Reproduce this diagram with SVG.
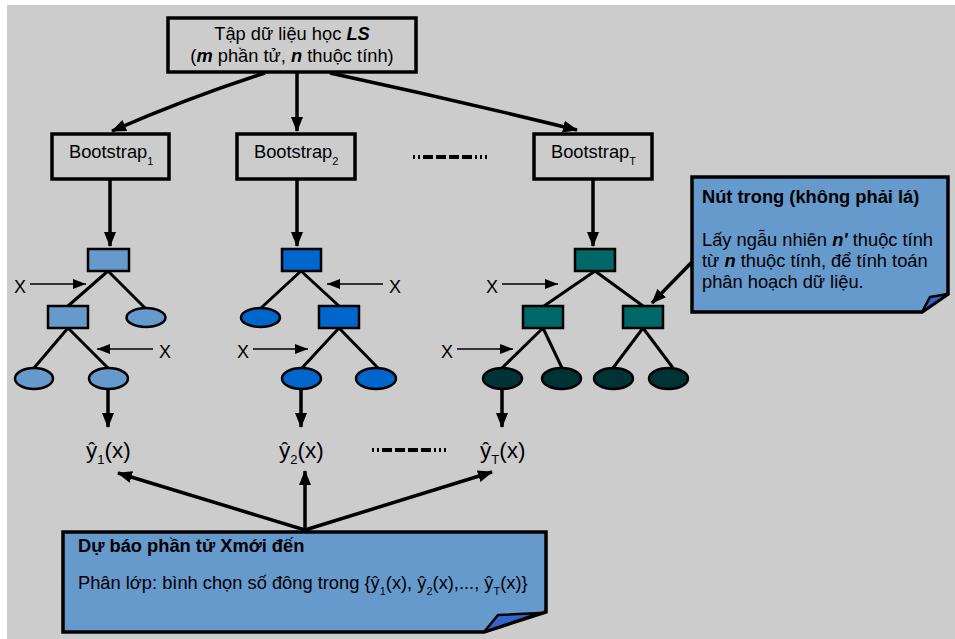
<svg xmlns="http://www.w3.org/2000/svg" width="955" height="639" viewBox="0 0 955 639">
<style>
text{font-family:"Liberation Sans",Arial,sans-serif;fill:#000}
.box{fill:none;stroke:#000;stroke-width:3.5}
.t16{font-size:18.3px}
.arr{fill:none;stroke:#000;stroke-width:3.5}
.xa{fill:none;stroke:#000;stroke-width:1.5}
.edge{stroke:#000;stroke-width:3;fill:none}
.n1{fill:#6699cc;stroke:#000;stroke-width:2.5}
.n2{fill:#0066cc;stroke:#000;stroke-width:2.5}
.n3{fill:#006666;stroke:#000;stroke-width:2.5}
.l3{fill:#003333;stroke:#000;stroke-width:2.5}
.note{fill:#6699cc;stroke:#000;stroke-width:3.5}
.flap{fill:#3366cc;stroke:#000;stroke-width:2.5;stroke-linejoin:round}
.dash{stroke:#000;stroke-width:4;stroke-dasharray:2 3 2 3 10 3 10 3 10 3 10 3 2 3 2 3}
.xl{font-size:18px}
.yp{font-size:22.5px}
</style>
<defs>
<marker id="ah" markerUnits="userSpaceOnUse" markerWidth="16" markerHeight="14" refX="14" refY="6" orient="auto"><path d="M0,0 L15,6 L0,12 Z" fill="#000"/></marker>
<marker id="as" markerUnits="userSpaceOnUse" markerWidth="14" markerHeight="12" refX="13" refY="5" orient="auto"><path d="M0,0 L13,5 L0,10 Z" fill="#000"/></marker>
</defs>
<rect x="7" y="5" width="948" height="634" fill="#cccccc"/>

<g id="connectors">
<path class="arr" d="M265,73 Q190,97 112,131" marker-end="url(#ah)"/>
<path class="arr" d="M297,73 L297,131" marker-end="url(#ah)"/>
<path class="arr" d="M330,73 Q455,100 577,130" marker-end="url(#ah)"/>
<path class="arr" d="M110,179 L110,246" marker-end="url(#ah)"/>
<path class="arr" d="M297,179 L297,246" marker-end="url(#ah)"/>
<path class="arr" d="M593,179 L593,246" marker-end="url(#ah)"/>
<path class="arr" d="M108,389 L108,427" marker-end="url(#ah)"/>
<path class="arr" d="M301,389 L301,427" marker-end="url(#ah)"/>
<path class="arr" d="M502,389 L502,427" marker-end="url(#ah)"/>
<path class="arr" d="M305,530 L118,473" marker-end="url(#ah)"/>
<path class="arr" d="M305,530 L305,471" marker-end="url(#ah)"/>
<path class="arr" d="M305,530 L492,472" marker-end="url(#ah)"/>
<path class="arr" d="M692,262 L652,303" marker-end="url(#ah)"/>
<path class="xa" d="M30,284 L86,284" marker-end="url(#as)"/>
<path class="xa" d="M153,349 L97,349" marker-end="url(#as)"/>
<path class="xa" d="M383,284 L327,284" marker-end="url(#as)"/>
<path class="xa" d="M253,349 L308,349" marker-end="url(#as)"/>
<path class="xa" d="M502,284 L558,284" marker-end="url(#as)"/>
<path class="xa" d="M457,349 L513,349" marker-end="url(#as)"/>
<line class="dash" x1="413" y1="157" x2="487" y2="157"/>
<line class="dash" x1="372" y1="450" x2="447" y2="450"/>
</g>

<g id="source">
<rect class="box" x="168" y="18" width="248" height="54"/>
<text class="t16" x="292" y="40" text-anchor="middle">Tập dữ liệu học <tspan font-weight="bold" font-style="italic">LS</tspan></text>
<text class="t16" x="292" y="62" text-anchor="middle">(<tspan font-weight="bold" font-style="italic">m</tspan> phần tử, <tspan font-weight="bold" font-style="italic">n</tspan> thuộc tính)</text>
</g>

<g id="bootstrap1">
<rect class="box" x="52" y="134" width="117" height="45"/>
<text class="t16" x="69" y="158">Bootstrap<tspan font-size="11" dy="7">1</tspan></text>
</g>
<g id="bootstrap2">
<rect class="box" x="237" y="134" width="118" height="45"/>
<text class="t16" x="254" y="158">Bootstrap<tspan font-size="11" dy="7">2</tspan></text>
</g>
<g id="bootstrapT">
<rect class="box" x="534" y="134" width="118" height="45"/>
<text class="t16" x="551" y="158">Bootstrap<tspan font-size="11" dy="7">T</tspan></text>
</g>

<g id="tree1">
<path class="edge" d="M108,271 L68,306 M108,271 L145,308 M68,328 L34,368 M68,328 L108,368"/>
<rect class="n1" x="88" y="249" width="41" height="22"/>
<rect class="n1" x="48" y="306" width="40" height="22"/>
<ellipse class="n1" cx="146" cy="317.5" rx="19.5" ry="9.5"/>
<ellipse class="n1" cx="34" cy="378.5" rx="19" ry="10.5"/>
<ellipse class="n1" cx="108.5" cy="378.5" rx="19.5" ry="10.5"/>
<text class="xl" x="20" y="293" text-anchor="middle">X</text>
<text class="xl" x="165" y="358" text-anchor="middle">X</text>
</g>

<g id="tree2">
<path class="edge" d="M301,271 L261,308 M301,271 L339,306 M339,328 L302,368 M339,328 L378,368"/>
<rect class="n2" x="282" y="249" width="39" height="22"/>
<rect class="n2" x="319" y="306" width="40" height="22"/>
<ellipse class="n2" cx="260.5" cy="317.5" rx="19.5" ry="9.5"/>
<ellipse class="n2" cx="301.5" cy="378.5" rx="19.5" ry="10.5"/>
<ellipse class="n2" cx="376" cy="378.5" rx="20" ry="10.5"/>
<text class="xl" x="395" y="293" text-anchor="middle">X</text>
<text class="xl" x="243" y="358" text-anchor="middle">X</text>
</g>

<g id="treeT">
<path class="edge" d="M595,271 L544,306 M595,271 L643,306 M543,328 L502,368 M543,328 L562,368 M643,328 L613,368 M643,328 L673,368"/>
<rect class="n3" x="575" y="249" width="40" height="22"/>
<rect class="n3" x="523" y="306" width="40" height="22"/>
<rect class="n3" x="623" y="306" width="40" height="22"/>
<ellipse class="l3" cx="502.5" cy="378.5" rx="19.5" ry="10.5"/>
<ellipse class="l3" cx="561.5" cy="378.5" rx="19.5" ry="10.5"/>
<ellipse class="l3" cx="613.5" cy="378.5" rx="19.5" ry="10.5"/>
<ellipse class="l3" cx="668.5" cy="378.5" rx="19.5" ry="10.5"/>
<text class="xl" x="492" y="293" text-anchor="middle">X</text>
<text class="xl" x="447" y="358" text-anchor="middle">X</text>
</g>

<g id="pred1"><text class="yp" x="86" y="458">ŷ<tspan font-size="13" dy="6">1</tspan><tspan dy="-6">(x)</tspan></text></g>
<g id="pred2"><text class="yp" x="279" y="458">ŷ<tspan font-size="13" dy="6">2</tspan><tspan dy="-6">(x)</tspan></text></g>
<g id="predT"><text class="yp" x="480" y="458">ŷ<tspan font-size="13" dy="6">T</tspan><tspan dy="-6">(x)</tspan></text></g>

<g id="note-internal">
<path class="note" d="M692,177 H948 V294 L922,312 H692 Z"/>
<path class="flap" d="M922,312 L930,297 L948,294 Z"/>
<text class="t16" x="702" y="203" font-weight="bold">Nút trong (không phải lá)</text>
<text class="t16" x="702" y="246">Lấy ngẫu nhiên <tspan font-weight="bold" font-style="italic">n'</tspan> thuộc tính</text>
<text class="t16" x="702" y="267">từ <tspan font-weight="bold" font-style="italic">n</tspan> thuộc tính, để tính toán</text>
<text class="t16" x="702" y="288">phân hoạch dữ liệu.</text>
</g>

<g id="note-predict">
<path class="note" d="M63,532 H546 V612 L484,632 H63 Z"/>
<path class="flap" d="M484,632 L498,615 L540,613 Z"/>
<text class="t16" x="78" y="552" font-weight="bold">Dự báo phần tử Xmới đến</text>
<text class="t16" x="78" y="589">Phân lớp: bình chọn số đông trong {ŷ<tspan font-size="11" dy="6">1</tspan><tspan dy="-6">(x), ŷ</tspan><tspan font-size="11" dy="6">2</tspan><tspan dy="-6">(x),..., ŷ</tspan><tspan font-size="11" dy="6">T</tspan><tspan dy="-6">(x)}</tspan></text>
</g>
</svg>
